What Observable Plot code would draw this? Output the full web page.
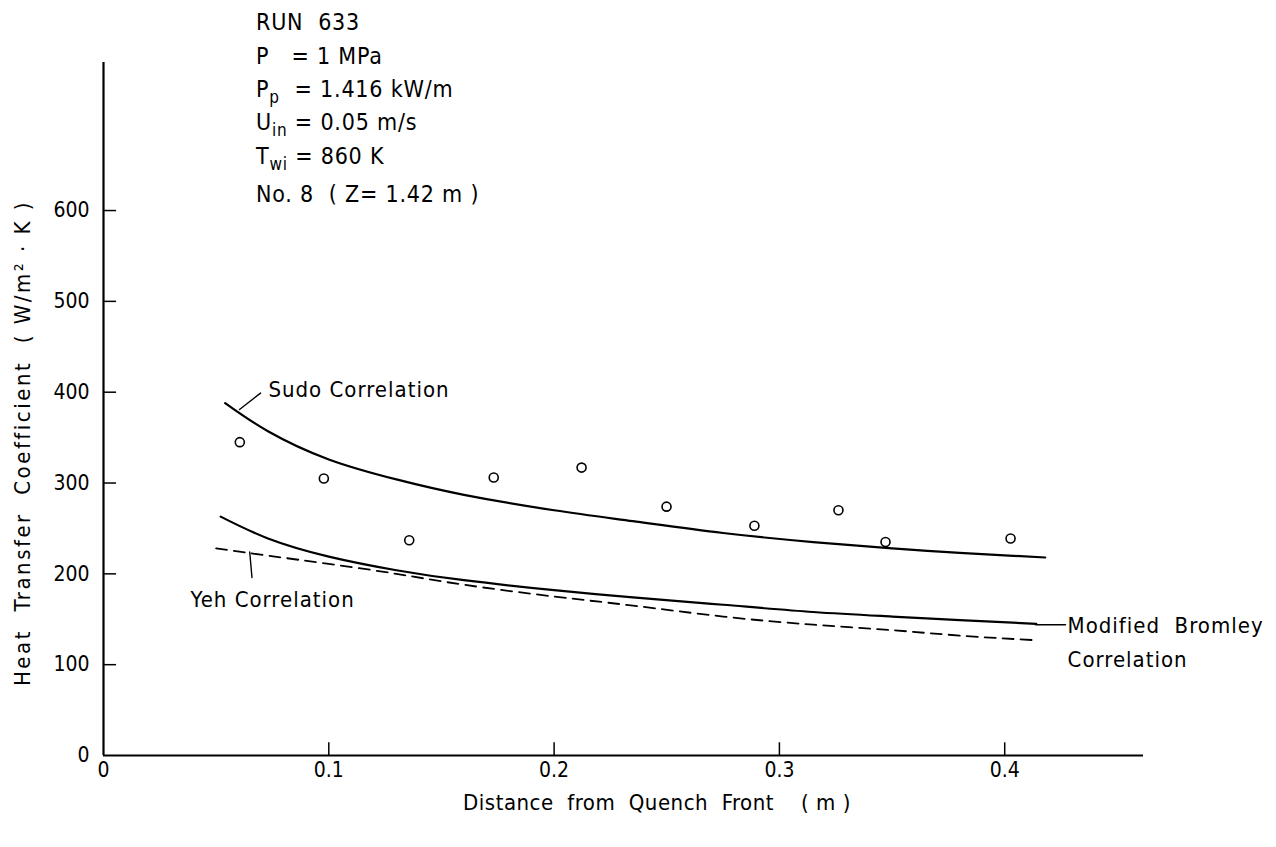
<!DOCTYPE html>
<html><head><meta charset="utf-8">
<script src="https://cdn.jsdelivr.net/npm/d3@7"></script>
<script src="https://cdn.jsdelivr.net/npm/@observablehq/plot@0.6"></script>
<style>body{margin:0;background:#fff} svg{display:block} svg text{font-stretch:condensed}</style>
</head><body><div id="chart"></div>
<script>
const FONT = '"DejaVu Sans Condensed","DejaVu Sans",sans-serif';

// Experimental data (circles)
const pointX = [0.0605, 0.0978, 0.1357, 0.1732, 0.2122, 0.2499, 0.2889, 0.3262, 0.3471, 0.4026];
const pointY = [345, 305, 237, 306, 317, 274, 253, 270, 235, 239];

// Sudo correlation
const sudoX = [0.054, 0.073, 0.10, 0.13, 0.16, 0.20, 0.235, 0.275, 0.315, 0.35, 0.38, 0.418];
const sudoY = [388, 357, 326, 304, 287, 270, 258, 245, 235, 228, 223, 218];

// Modified Bromley correlation
const bromX = [0.052, 0.073, 0.10, 0.13, 0.16, 0.20, 0.235, 0.275, 0.315, 0.35, 0.38, 0.414];
const bromY = [263, 239, 219, 204, 193, 182, 174, 166, 158, 153, 149, 145];

// Yeh correlation (dashed)
const yehX = [0.050, 0.073, 0.10, 0.13, 0.16, 0.20, 0.235, 0.275, 0.315, 0.35, 0.38, 0.413];
const yehY = [228, 220, 211, 200, 188, 175, 165, 153, 144, 138, 132, 127];

const xTicks = [0, 0.1, 0.2, 0.3, 0.4];
const yTicks = [0, 100, 200, 300, 400, 500, 600];
const xMax = 0.4616, yMax = 763;

const zip = (xs, ys) => xs.map((x, i) => ({x, y: ys[i]}));
const points = zip(pointX, pointY);
const sudo = zip(sudoX, sudoY);
const brom = zip(bromX, bromY);
const yeh = zip(yehX, yehY);

const curveLabels = [
  {x: 0.0732, y: 402, text: "Sudo Correlation"},
  {x: 0.0386, y: 171, text: "Yeh Correlation"},
  {x: 0.4279, y: 143, text: "Modified  Bromley"},
  {x: 0.4279, y: 105, text: "Correlation"}
];
const leaders = [
  {x1: 0.0697, y1: 399, x2: 0.0604, y2: 381, bend: 0},
  {x1: 0.0659, y1: 196, x2: 0.0649, y2: 224, bend: 12},
  {x1: 0.4270, y1: 144, x2: 0.4137, y2: 144, bend: 0}
];

const plot = Plot.plot({
  width: 1276, height: 847,
  marginLeft: 103, marginRight: 133, marginTop: 62, marginBottom: 92,
  x: {domain: [0, xMax]},
  y: {domain: [0, yMax]},
  style: {fontFamily: FONT, fontSize: "21px", color: "#000", background: "#fff"},
  marks: [
    Plot.axisX(xTicks, {tickSize: 0, tickPadding: 7, label: null, fontSize: 21,
      tickFormat: d => d === 0 ? "0" : d.toFixed(1)}),
    Plot.axisY(yTicks, {tickSize: 0, tickPadding: 14, label: null, fontSize: 21}),
    Plot.ruleX(xTicks.filter(d => d > 0), {y1: 0, y2: 14, strokeWidth: 1.5}),
    Plot.ruleY(yTicks.filter(d => d > 0), {x1: 0, x2: 0.0058, strokeWidth: 1.5}),
    Plot.ruleX([0], {y1: 0, y2: yMax, strokeWidth: 2.2}),
    Plot.ruleY([0], {x1: 0, x2: xMax, strokeWidth: 2.2}),
    Plot.line(sudo, {x: "x", y: "y", curve: "natural", strokeWidth: 2.2}),
    Plot.line(brom, {x: "x", y: "y", curve: "natural", strokeWidth: 2.2}),
    Plot.line(yeh, {x: "x", y: "y", curve: "natural", strokeWidth: 1.8, strokeDasharray: "11,7"}),
    Plot.dot(points, {x: "x", y: "y", r: 4.5, stroke: "#000", strokeWidth: 1.6, fill: "#fff"}),
    Plot.arrow(leaders, {x1: "x1", y1: "y1", x2: "x2", y2: "y2", bend: "bend", headLength: 10, headAngle: 50, strokeWidth: 1.4}),
    Plot.text(curveLabels, {x: "x", y: "y", text: "text", textAnchor: "start", fontSize: 22})
  ]
});

const svg = d3.select(plot);
svg.selectAll("text").style("white-space", "pre");
svg.selectAll('g[aria-label="text"] text').style("letter-spacing", "1px");

// Axis titles
svg.append("text")
  .attr("x", 657).attr("y", 810)
  .attr("text-anchor", "middle")
  .attr("font-family", FONT).attr("font-size", 22)
  .style("letter-spacing", "0.5px")
  .style("white-space", "pre")
  .text("Distance  from  Quench  Front    ( m )");

svg.append("text")
  .attr("transform", "translate(30,443) rotate(-90)")
  .attr("text-anchor", "middle")
  .attr("font-family", FONT).attr("font-size", 22)
  .style("letter-spacing", "2.5px")
  .style("white-space", "pre")
  .text("Heat  Transfer  Coefficient  ( W/m² · K )");

// Run conditions block
const runLines = [
  [["RUN  633", 0]],
  [["P   = 1 MPa", 0]],
  [["P", 0], ["p", 1], ["  = 1.416 kW/m", 0]],
  [["U", 0], ["in", 1], [" = 0.05 m/s", 0]],
  [["T", 0], ["wi", 1], [" = 860 K", 0]],
  [["No. 8  ( Z= 1.42 m )", 0]]
];
const runBaselines = [30, 64, 97, 130, 164, 202];
runLines.forEach((parts, i) => {
  const t = svg.append("text")
    .attr("x", 256).attr("y", runBaselines[i])
    .attr("text-anchor", "start")
    .attr("font-family", FONT).attr("font-size", 23)
    .style("letter-spacing", "0.8px")
    .style("white-space", "pre");
  parts.forEach(([s, sub], j) => {
    const prevSub = j > 0 && parts[j - 1][1];
    const sp = t.append("tspan").text(s);
    if (sub) sp.attr("dy", 6).attr("font-size", 17);
    else if (prevSub) sp.attr("dy", -6);
  });
});

document.getElementById("chart").appendChild(plot);
</script>
</body></html>
